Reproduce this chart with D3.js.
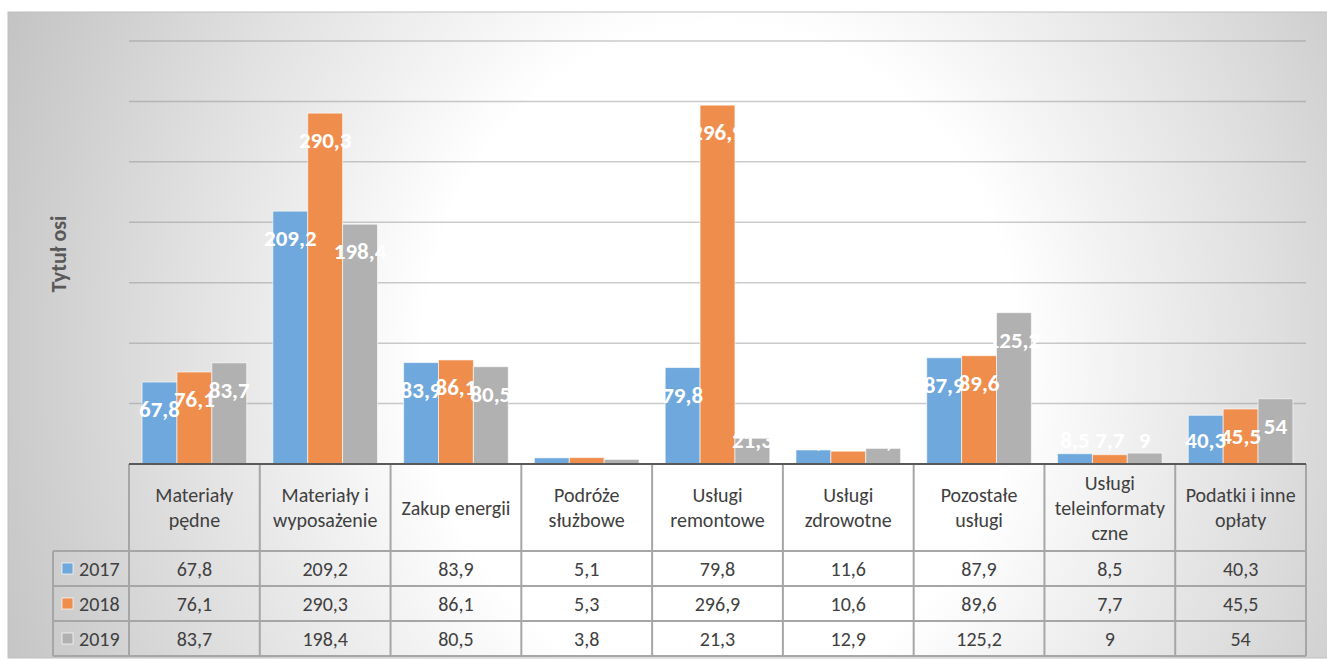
<!DOCTYPE html>
<html>
<head>
<meta charset="utf-8">
<script src="https://cdn.jsdelivr.net/npm/d3@7"></script>
<style>
    body { margin: 0; background: #fff; }
    svg { display: block; font-family: Carlito, Calibri, Lato, sans-serif; }
</style>
</head>
<body>
<svg id="chart" width="1327" height="661"></svg>
<script>
// chart data
const categories = ['Materiały pędne', 'Materiały i wyposażenie', 'Zakup energii', 'Podróże służbowe',
    'Usługi remontowe', 'Usługi zdrowotne', 'Pozostałe usługi', 'Usługi teleinformatyczne', 'Podatki i inne opłaty'];
const categoryLines = [
    ['Materiały', 'pędne'], ['Materiały i', 'wyposażenie'], ['Zakup energii'], ['Podróże', 'służbowe'],
    ['Usługi', 'remontowe'], ['Usługi', 'zdrowotne'], ['Pozostałe', 'usługi'],
    ['Usługi', 'teleinformaty', 'czne'], ['Podatki i inne', 'opłaty']
];
const years = ['2017', '2018', '2019'];
const values2017 = [67.8, 209.2, 83.9, 5.1, 79.8, 11.6, 87.9, 8.5, 40.3];
const values2018 = [76.1, 290.3, 86.1, 5.3, 296.9, 10.6, 89.6, 7.7, 45.5];
const values2019 = [83.7, 198.4, 80.5, 3.8, 21.3, 12.9, 125.2, 9, 54];
const yTicks = [0, 50, 100, 150, 200, 250, 300, 350];
const axisTitle = 'Tytuł osi';

const seriesValues = [values2017, values2018, values2019];
const colors = ['#6FA8DC', '#EF8D4D', '#B1B1B1'];

const svg = d3.select('#chart');
const plotLeft = 129, plotRight = 1306, plotTop = 41, plotBase = 464;
const headerBottom = 551, rowH = 35;
const legendLeft = 53;

const fmt = v => String(v).replace('.', ',');

// background gradient (light centre, grey edges)
const defs = svg.append('defs');
const grad = defs.append('radialGradient')
    .attr('id', 'bg')
    .attr('gradientUnits', 'userSpaceOnUse')
    .attr('cx', 0).attr('cy', 0).attr('r', 1)
    .attr('gradientTransform', 'translate(720,360) scale(780,880)');
[[0, '#ffffff'], [0.38, '#ffffff'], [0.52, '#f1f1f1'], [0.7, '#e0e0e0'], [0.87, '#cfcfcf'], [1, '#c3c3c3']]
    .forEach(s => grad.append('stop').attr('offset', s[0]).attr('stop-color', s[1]));

svg.append('rect')
    .attr('x', 8).attr('y', 12)
    .attr('width', 1330).attr('height', 646)
    .attr('fill', 'url(#bg)')
    .attr('stroke', '#bfbfbf');

const x0 = d3.scaleBand().domain(categories).range([plotLeft, plotRight]);
const x1 = d3.scaleBand().domain(years).range([x0.bandwidth() * 0.1, x0.bandwidth() * 0.9]);
const y = d3.scaleLinear().domain([0, 350]).range([plotBase, plotTop]);

// gridlines
svg.append('g')
    .selectAll('line')
    .data(yTicks.filter(t => t > 0))
    .enter().append('line')
    .attr('x1', plotLeft).attr('x2', plotRight)
    .attr('y1', d => y(d)).attr('y2', d => y(d))
    .attr('stroke', 'rgba(140,140,140,0.45)')
    .attr('stroke-width', 1.5);

// bars
const rows = [];
categories.forEach((c, i) => {
    years.forEach((yr, j) => rows.push({ cat: c, year: yr, value: seriesValues[j][i], s: j }));
});

svg.append('g')
    .selectAll('rect')
    .data(rows)
    .enter().append('rect')
    .attr('x', d => x0(d.cat) + x1(d.year))
    .attr('y', d => y(d.value))
    .attr('width', x1.bandwidth())
    .attr('height', d => plotBase - y(d.value))
    .attr('fill', d => colors[d.s])
    .attr('stroke', 'rgba(255,255,255,0.6)')
    .attr('stroke-width', 1);

// data labels, inside end
svg.append('g')
    .selectAll('text')
    .data(rows)
    .enter().append('text')
    .attr('x', d => x0(d.cat) + x1(d.year) + x1.bandwidth() / 2)
    .attr('y', d => Math.min(y(d.value) + 27, plotBase - 24))
    .attr('dy', '0.35em')
    .attr('text-anchor', 'middle')
    .style('font-size', '23px')
    .style('font-weight', 'bold')
    .style('fill', '#fff')
    .text(d => fmt(d.value));

// axis title
svg.append('text')
    .attr('transform', 'translate(58,254) rotate(-90)')
    .attr('text-anchor', 'middle')
    .attr('dy', '0.35em')
    .style('font-size', '22px')
    .style('font-weight', 'bold')
    .style('fill', '#595959')
    .text(axisTitle);

// data table
const table = svg.append('g');
const tableBottom = headerBottom + rowH * years.length;
const lineColor = '#a6a6a6';

// header labels
categories.forEach((c, i) => {
    const lines = categoryLines[i];
    const cx = x0(c) + x0.bandwidth() / 2;
    const cy = (plotBase + headerBottom) / 2;
    lines.forEach((ln, k) => {
        table.append('text')
            .attr('x', cx)
            .attr('y', cy + (k - (lines.length - 1) / 2) * 25)
            .attr('dy', '0.35em')
            .attr('text-anchor', 'middle')
            .style('font-size', '20px')
            .style('fill', '#404040')
            .text(ln);
    });
});

// value rows + legend
years.forEach((yr, j) => {
    const cy = headerBottom + rowH * j + rowH / 2;
    table.append('rect')
        .attr('x', 62).attr('y', cy - 5.5)
        .attr('width', 11).attr('height', 11)
        .attr('fill', colors[j])
        .attr('stroke', 'rgba(255,255,255,0.7)');
    table.append('text')
        .attr('x', 79).attr('y', cy)
        .attr('dy', '0.35em')
        .style('font-size', '20px')
        .style('fill', '#404040')
        .text(yr);
    categories.forEach((c, i) => {
        table.append('text')
            .attr('x', x0(c) + x0.bandwidth() / 2)
            .attr('y', cy)
            .attr('dy', '0.35em')
            .attr('text-anchor', 'middle')
            .style('font-size', '20px')
            .style('fill', '#404040')
            .text(fmt(seriesValues[j][i]));
    });
});

// table grid
for (let j = 0; j <= years.length; j++) {
    const ly = headerBottom + rowH * j;
    table.append('line')
        .attr('x1', legendLeft).attr('x2', plotRight)
        .attr('y1', ly).attr('y2', ly)
        .attr('stroke', lineColor).attr('stroke-width', 2);
}
table.append('line')
    .attr('x1', legendLeft).attr('x2', legendLeft)
    .attr('y1', headerBottom).attr('y2', tableBottom)
    .attr('stroke', lineColor).attr('stroke-width', 2);
categories.concat([null]).forEach(c => {
    const lx = c ? x0(c) : plotRight;
    table.append('line')
        .attr('x1', lx).attr('x2', lx)
        .attr('y1', plotBase).attr('y2', tableBottom)
        .attr('stroke', lineColor).attr('stroke-width', 2);
});

// category axis line
svg.append('line')
    .attr('x1', plotLeft).attr('x2', plotRight)
    .attr('y1', plotBase).attr('y2', plotBase)
    .attr('stroke', '#595959').attr('stroke-width', 2);
</script>
</body>
</html>
